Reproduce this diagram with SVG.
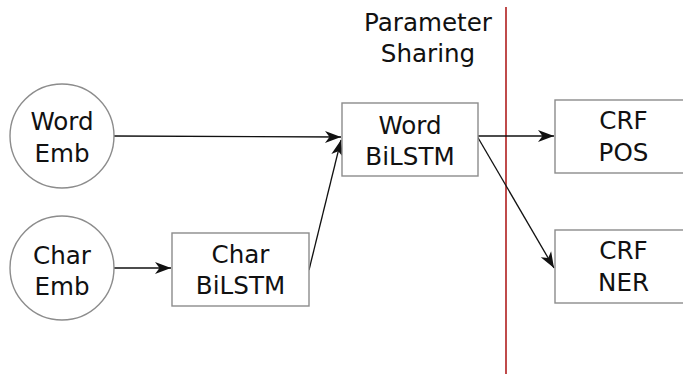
<svg xmlns="http://www.w3.org/2000/svg" width="683" height="374" viewBox="0 0 683 374">
  <defs>
    <style>
      .node { fill: #ffffff; stroke: #8c8c8c; stroke-width: 1.4; }
      .label { font-family: "DejaVu Sans", "Liberation Sans", sans-serif; font-size: 24.6px; fill: #111111; text-anchor: middle; }
      .edge { fill: none; stroke: #111111; stroke-width: 1.3; marker-end: url(#arrow); }
      .divider { stroke: #b01e1e; stroke-width: 1.6; }
    </style>
    <marker id="arrow" markerUnits="userSpaceOnUse" viewBox="-17 -7 19 14" refX="0" refY="0" markerWidth="19" markerHeight="14" orient="auto">
      <path d="M0,0 L-16,-6 L-11.5,0 L-16,6 Z" fill="#111111"/>
    </marker>
  </defs>

  <rect width="683" height="374" fill="#ffffff"/>

  <!-- shared / task-specific split -->
  <line class="divider" x1="506" y1="7" x2="506" y2="374"/>
  <text class="label" x="428" y="31">Parameter</text>
  <text class="label" x="428" y="62">Sharing</text>

  <g id="connectors">
    <line class="edge" x1="114" y1="136" x2="341" y2="137"/>
    <line class="edge" x1="114" y1="268" x2="171" y2="268"/>
    <line class="edge" x1="309" y1="270" x2="341" y2="140"/>
    <line class="edge" x1="477" y1="136" x2="554" y2="136"/>
    <line class="edge" x1="477" y1="136" x2="554" y2="268"/>
  </g>

  <g id="word-emb">
    <circle class="node" cx="62" cy="136" r="52"/>
    <text class="label" x="62" y="130">Word</text>
    <text class="label" x="62" y="162">Emb</text>
  </g>

  <g id="char-emb">
    <circle class="node" cx="62" cy="268" r="52"/>
    <text class="label" x="62" y="264">Char</text>
    <text class="label" x="62" y="295">Emb</text>
  </g>

  <g id="char-bilstm">
    <rect class="node" x="172" y="233" width="137" height="73"/>
    <text class="label" x="240.5" y="263">Char</text>
    <text class="label" x="240.5" y="294">BiLSTM</text>
  </g>

  <g id="word-bilstm">
    <rect class="node" x="342" y="103" width="136" height="73"/>
    <text class="label" x="410" y="134">Word</text>
    <text class="label" x="410" y="165">BiLSTM</text>
  </g>

  <g id="crf-pos">
    <rect class="node" x="555" y="100" width="137" height="73"/>
    <text class="label" x="623.5" y="129">CRF</text>
    <text class="label" x="623.5" y="161">POS</text>
  </g>

  <g id="crf-ner">
    <rect class="node" x="555" y="230" width="137" height="73"/>
    <text class="label" x="623.5" y="259">CRF</text>
    <text class="label" x="623.5" y="291">NER</text>
  </g>
</svg>
